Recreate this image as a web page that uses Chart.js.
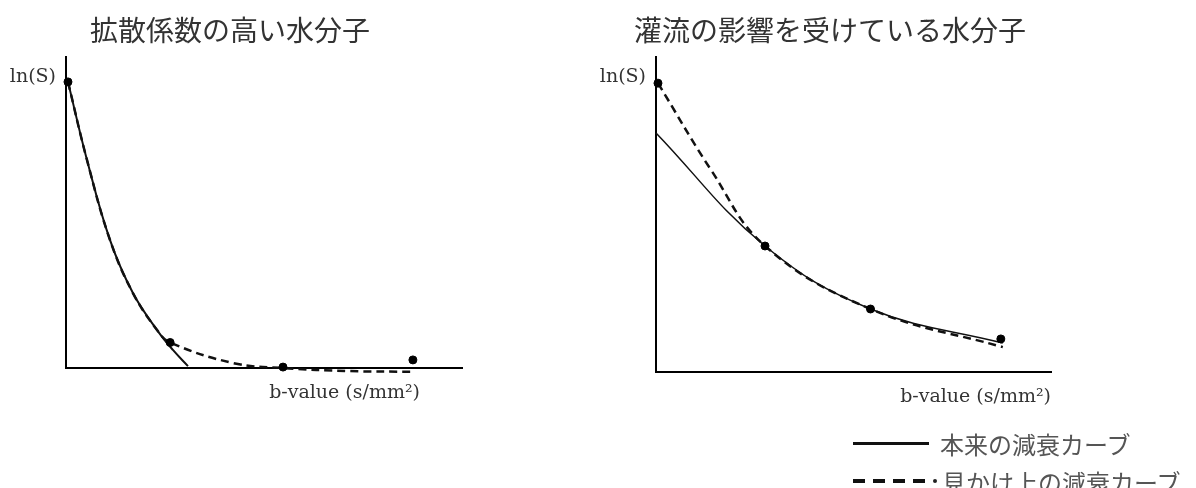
<!DOCTYPE html>
<html lang="ja">
<head>
<meta charset="utf-8">
<script src="https://cdn.jsdelivr.net/npm/chart.js@4.4.1/dist/chart.umd.min.js"></script>
<style>
  html, body { margin: 0; padding: 0; background: #fff; }
  body { width: 1196px; height: 488px; position: relative; overflow: hidden; }
  .panel { position: absolute; top: 0; width: 598px; height: 488px; }
  .legend { position: absolute; left: 853px; top: 0; font-family: "Noto Sans CJK JP", sans-serif; font-size: 24px; color: #555; }
  .legend .row { position: absolute; left: 0; white-space: nowrap; display: flex; align-items: center; height: 30px; }
  .legend .solid { width: 76px; height: 3px; background: #111; margin-right: 11px; }
  .legend .dash { width: 12px; height: 4px; background: #111; margin-right: 8px; }
  .legend .dot { width: 4px; height: 4px; border-radius: 2px; background: #222; margin-right: 5px; }
</style>
</head>
<body>
<div class="panel" style="left:0"><canvas id="diffChart"></canvas></div>
<div class="panel" style="left:598px"><canvas id="perfChart"></canvas></div>
<div class="legend">
  <div class="row" style="top:428px"><span class="solid"></span>本来の減衰カーブ</div>
  <div class="row" style="top:466px"><span class="dash"></span><span class="dash"></span><span class="dash"></span><span class="dash"></span><span class="dot"></span>見かけ上の減衰カーブ</div>
</div>
<script>
// 拡散係数の高い水分子
const diffB = [5, 263, 548, 876];
const diffS = [9.2, 0.82, 0.03, 0.26];
const diffTrueB = [5, 53, 111, 169, 230, 270, 308];
const diffTrueS = [9.2, 6.69, 4.12, 2.41, 1.22, 0.58, 0.06];
const diffFitB = [5, 53, 111, 169, 230, 263, 422, 548, 717, 876];
const diffFitS = [9.2, 6.69, 4.12, 2.41, 1.22, 0.82, 0.16, 0, -0.1, -0.12];

// 灌流の影響を受けている水分子
const perfB = [5, 276, 543, 873];
const perfS = [9.17, 4.0, 2.0, 1.05];
const perfTrueB = [0, 276, 543, 878];
const perfTrueS = [7.59, 4.0, 2.0, 0.92];
const perfFitB = [5, 140, 276, 543, 878];
const perfFitS = [9.17, 6.4, 4.0, 2.0, 0.79];

const titles = ["拡散係数の高い水分子", "灌流の影響を受けている水分子"];
const yLabel = "ln(S)";
const xLabel = "b-value (s/mm²)";

const toPoints = (xs, ys) => xs.map((x, i) => ({ x, y: ys[i] }));

// titles and axis names, placed relative to the plot area
const textPlugin = {
    id: "panelText",
    afterDraw(chart, args, opts) {
        const { ctx, chartArea } = chart;
        ctx.save();
        ctx.fillStyle = "#333";
        ctx.font = "28px 'Noto Sans CJK JP'";
        ctx.textAlign = "center";
        ctx.textBaseline = "middle";
        ctx.fillText(opts.title, chartArea.left + opts.titleDx, 30);

        ctx.fillStyle = "#333";
        ctx.font = "19px 'DejaVu Serif'";
        ctx.textAlign = "right";
        ctx.fillText(yLabel, chartArea.left - 10, chartArea.top + 20);
        ctx.fillText(xLabel, chartArea.right + opts.xLabelDx, chartArea.bottom + 25);
        ctx.restore();
    },
};

function makeChart(id, dots, trueCurve, fitCurve, pad, text, trueWidth) {
    return new Chart(document.getElementById(id), {
        type: "scatter",
        data: {
            datasets: [
                {
                    data: trueCurve,
                    showLine: true,
                    borderColor: "#111",
                    borderWidth: trueWidth,
                    pointRadius: 0,
                    tension: 0.4,
                    clip: false,
                    order: 2,
                },
                {
                    // dashed curve sits over the solid one
                    data: fitCurve,
                    showLine: true,
                    borderColor: "#111",
                    borderWidth: 2.5,
                    borderDash: [8, 5],
                    pointRadius: 0,
                    tension: 0.4,
                    clip: false,
                    order: 1,
                },
                {
                    data: dots,
                    pointRadius: 4,
                    pointBackgroundColor: "#000",
                    pointBorderColor: "#000",
                    clip: false,
                    order: 0,
                },
            ],
        },
        options: {
            responsive: false,
            animation: false,
            layout: { padding: pad },
            plugins: {
                legend: { display: false },
                tooltip: { enabled: false },
                panelText: text,
            },
            scales: {
                x: {
                    type: "linear",
                    min: 0,
                    max: 1000,
                    ticks: { display: false },
                    grid: { display: false, drawTicks: false },
                    border: { display: true, color: "#000", width: 2 },
                },
                y: {
                    type: "linear",
                    min: 0,
                    max: 10,
                    ticks: { display: false },
                    grid: { display: false, drawTicks: false },
                    border: { display: true, color: "#000", width: 2 },
                },
            },
        },
        plugins: [textPlugin],
    });
}

for (const c of document.querySelectorAll("canvas")) {
    c.width = 598;
    c.height = 488;
}

makeChart("diffChart",
    toPoints(diffB, diffS),
    toPoints(diffTrueB, diffTrueS),
    toPoints(diffFitB, diffFitS),
    { left: 66, top: 57, right: 136, bottom: 120 },
    { title: titles[0], titleDx: 164, xLabelDx: -42 },
    2);

makeChart("perfChart",
    toPoints(perfB, perfS),
    toPoints(perfTrueB, perfTrueS),
    toPoints(perfFitB, perfFitS),
    { left: 58, top: 57, right: 145, bottom: 116 },
    { title: titles[1], titleDx: 174, xLabelDx: 0 },
    1.5);
</script>
</body>
</html>
